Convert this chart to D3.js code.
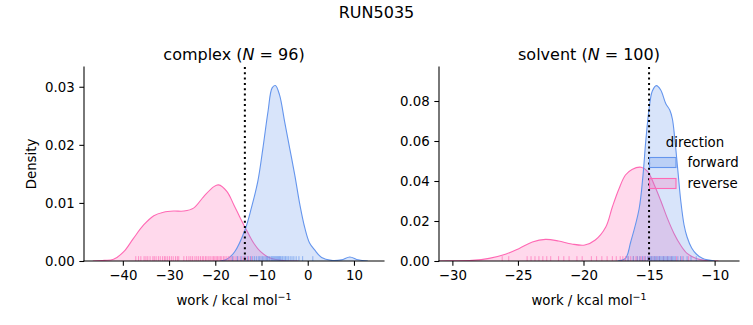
<!DOCTYPE html>
<html>
<head>
<meta charset="utf-8">
<script src="https://cdn.jsdelivr.net/npm/d3@7"></script>
<style>
  html, body { margin: 0; padding: 0; background: #fff; }
  svg { display: block; }
  text { font-family: "DejaVu Sans", sans-serif; fill: #000; }
</style>
</head>
<body>
<svg id="chart" width="753" height="325"></svg>
<script>
// ---------------- DATA ----------------
const suptitle = "RUN5035";
const hueLevels = ["forward", "reverse"];
const legendTitle = "direction";
const xLabel = "work / kcal mol";

// complex panel
const complexN = 96;
const complexXTicks = [-40, -30, -20, -10, 0, 10];
const complexYTicks = [0, 0.01, 0.02, 0.03];
const complexVline = -13.6;
const complexForwardX = [-19, -17.5, -15.8, -13.6, -12.2, -10.8, -9.7, -8.6, -7.7, -7.0, -6.1, -5.0, -3.9, -2.8, -1.7, -0.6, 0.4, 1.5, 3.0, 5.1, 7.3, 9.1, 10.9, 13];
const complexForwardY = [0, 0.0003, 0.0016, 0.0053, 0.0091, 0.0137, 0.0194, 0.0257, 0.0298, 0.0302, 0.0286, 0.0240, 0.0194, 0.0148, 0.0097, 0.0056, 0.0031, 0.0019, 0.0006, 0.0001, 0.0002, 0.0007, 0.0002, 0];
const complexReverseX = [-46.5, -44, -42, -39.8, -37.7, -35.5, -33.3, -31.2, -29, -26.8, -24.7, -22.5, -20.3, -19.3, -17.5, -16, -14.6, -13.1, -11.7, -10.2, -8.1, -5, -2];
const complexReverseY = [0, 0.0001, 0.0003, 0.0016, 0.0039, 0.0062, 0.0078, 0.0084, 0.0086, 0.0086, 0.0091, 0.0111, 0.0128, 0.0131, 0.0120, 0.0097, 0.0074, 0.0051, 0.0031, 0.0016, 0.0005, 0.00005, 0];
const complexForwardRug = [-16.3, -15.2, -14.4, -13.7, -13.0, -12.4, -11.9, -11.5, -11.1, -10.7, -10.4, -10.1, -9.8, -9.5, -9.2, -8.9, -8.7, -8.4, -8.2, -7.9, -7.7, -7.5, -7.3, -7.1, -6.9, -6.7, -6.5, -6.3, -6.1, -5.9, -5.6, -5.4, -5.1, -4.8, -4.5, -4.2, -3.8, -3.4, -3.0, -2.5, -1.9, -1.1, 1.1];
const complexReverseRug = [-37.2, -36.6, -36.1, -35.4, -35.0, -34.6, -34.1, -33.5, -33.2, -32.8, -32.3, -31.9, -31.4, -31.0, -30.7, -30.3, -29.9, -29.5, -29.1, -28.6, -28.2, -27.9, -26.8, -26.2, -25.7, -25.3, -24.9, -24.4, -24.0, -23.6, -23.2, -22.8, -22.5, -22.1, -21.8, -21.4, -21.1, -20.7, -20.4, -20.1, -19.8, -19.5, -19.2, -18.9, -18.6, -18.2, -17.9, -17.5, -17.1, -16.8, -16.4, -16.0, -15.5, -15.1, -14.6, -14.0, -13.4, -12.8, -12.2];

// solvent panel
const solventN = 100;
const solventXTicks = [-30, -25, -20, -15, -10];
const solventYTicks = [0, 0.02, 0.04, 0.06, 0.08];
const solventVline = -15.0;
const solventForwardX = [-17.4, -16.8, -16.4, -15.76, -15.46, -15.25, -15.0, -14.75, -14.44, -14.11, -13.73, -13.42, -13.22, -13.05, -12.8, -12.58, -12.33, -12.1, -11.75, -11.4, -10.9, -10.0];
const solventForwardY = [0, 0.0013, 0.0095, 0.026, 0.043, 0.060, 0.076, 0.085, 0.0877, 0.0855, 0.0788, 0.0755, 0.071, 0.062, 0.045, 0.030, 0.018, 0.012, 0.0065, 0.0035, 0.0012, 0];
const solventReverseX = [-31, -30, -28.5, -27.2, -25.9, -24.9, -23.9, -22.9, -21.9, -20.9, -19.9, -19.1, -18.3, -17.8, -17.3, -16.8, -16.3, -15.6, -15.1, -14.6, -14.1, -13.6, -13.1, -12.6, -12.1, -11.4, -10.7, -9.7];
const solventReverseY = [0, 0.0001, 0.0003, 0.0013, 0.0035, 0.0063, 0.0095, 0.0108, 0.0100, 0.0085, 0.0080, 0.0105, 0.017, 0.027, 0.036, 0.043, 0.0458, 0.0469, 0.0447, 0.038, 0.030, 0.0213, 0.0138, 0.008, 0.0038, 0.0013, 0.0003, 0];
const solventForwardRug = [-16.6, -16.2, -15.9, -15.7, -15.5, -15.3, -15.1, -15.0, -14.9, -14.8, -14.7, -14.6, -14.5, -14.4, -14.3, -14.2, -14.1, -14.0, -13.9, -13.8, -13.7, -13.6, -13.5, -13.4, -13.3, -13.2, -13.1, -13.0, -12.8, -12.6, -12.4, -12.1, -11.8, -11.4];
const solventReverseRug = [-26.2, -25.7, -24.3, -24.0, -23.7, -23.4, -23.1, -22.8, -22.5, -21.9, -21.5, -21.1, -20.5, -20.1, -19.4, -19.0, -18.6, -18.2, -17.8, -17.5, -17.2, -17.0, -16.8, -16.6, -16.4, -16.2, -16.0, -15.9, -15.7, -15.6, -15.4, -15.3, -15.1, -15.0, -14.8, -14.6, -14.4, -14.2, -13.9, -13.6, -13.3, -12.9, -12.5, -12.0];

// ---------------- STYLE / LAYOUT ----------------
const colors = { forward: "#6495ED", reverse: "#FF69B4" };
const fillAlpha = 0.25;
const fs = 13.33, fsTitle = 16;
const axTop = 67, axBottom = 261;

const panels = [
  { title: "complex", n: complexN, left: 84, right: 384, xDomain: [-48.4, 16.5], yDomain: [0, 0.0334],
    xTicks: complexXTicks, yTicks: complexYTicks, vline: complexVline,
    series: [
      { key: "reverse", x: complexReverseX, y: complexReverseY, rug: complexReverseRug },
      { key: "forward", x: complexForwardX, y: complexForwardY, rug: complexForwardRug }
    ], ylabel: true, legend: false },
  { title: "solvent", n: solventN, left: 439, right: 739, xDomain: [-31.02, -8.14], yDomain: [0, 0.097],
    xTicks: solventXTicks, yTicks: solventYTicks, vline: solventVline,
    series: [
      { key: "reverse", x: solventReverseX, y: solventReverseY, rug: solventReverseRug },
      { key: "forward", x: solventForwardX, y: solventForwardY, rug: solventForwardRug }
    ], ylabel: false, legend: true }
];

const svg = d3.select("#chart");
const minus = s => s.replace(/-/g, "\u2212");

svg.append("text").attr("x", 376.5).attr("y", 17.5).attr("text-anchor", "middle")
  .style("font-size", fsTitle + "px").text(suptitle);

panels.forEach((p, pi) => {
  const x = d3.scaleLinear().domain(p.xDomain).range([p.left, p.right]);
  const y = d3.scaleLinear().domain(p.yDomain).range([axBottom, axTop]);
  const g = svg.append("g");
  const clipId = "clip" + pi;
  svg.append("clipPath").attr("id", clipId).append("rect")
    .attr("x", p.left).attr("y", axTop).attr("width", p.right - p.left).attr("height", axBottom - axTop);
  const plot = g.append("g").attr("clip-path", `url(#${clipId})`);

  const curve = d3.curveCatmullRom.alpha(0.5);
  const area = d3.area().x(d => x(d[0])).y0(y(0)).y1(d => y(d[1])).curve(curve);
  const line = d3.line().x(d => x(d[0])).y(d => y(d[1])).curve(curve);

  p.series.forEach(s => {
    const pts = s.x.map((v, i) => [v, s.y[i]]);
    plot.append("path").attr("d", area(pts)).attr("fill", colors[s.key]).attr("fill-opacity", fillAlpha);
    plot.append("path").attr("d", line(pts)).attr("fill", "none").attr("stroke", colors[s.key]).attr("stroke-width", 1.1);
  });
  const rugH = 0.025 * (axBottom - axTop);
  p.series.forEach(s => {
    plot.selectAll(null).data(s.rug).enter().append("line")
      .attr("x1", d => x(d)).attr("x2", d => x(d))
      .attr("y1", axBottom).attr("y2", axBottom - rugH)
      .attr("stroke", colors[s.key]).attr("stroke-opacity", 0.65).attr("stroke-width", 1);
  });
  // vertical dotted line
  plot.append("line").attr("x1", x(p.vline)).attr("x2", x(p.vline))
    .attr("y1", axTop).attr("y2", axBottom)
    .attr("stroke", "#000").attr("stroke-width", 2).attr("stroke-dasharray", "2,3.3");

  // axes
  const xAxis = d3.axisBottom(x).tickValues(p.xTicks).tickSize(4.67).tickPadding(4.67)
    .tickFormat(d => minus(d3.format("d")(d)));
  const yAxis = d3.axisLeft(y).tickValues(p.yTicks).tickSize(4.67).tickPadding(4.67)
    .tickFormat(d => d3.format(".2f")(d));
  const gx = g.append("g").attr("transform", `translate(0,${axBottom})`).call(xAxis);
  const gy = g.append("g").attr("transform", `translate(${p.left},0)`).call(yAxis);
  [gx, gy].forEach(a => {
    a.select(".domain").remove();
    a.selectAll(".tick line").attr("stroke", "#000").attr("stroke-width", 1.07);
    a.selectAll(".tick text").style("font-size", fs + "px").style("font-family", "DejaVu Sans");
  });
  gx.selectAll(".tick text").attr("dy", "0.71em");
  gy.selectAll(".tick text").attr("dy", "0.36em");
  // spines
  g.append("line").attr("x1", p.left).attr("x2", p.left).attr("y1", axTop).attr("y2", axBottom)
    .attr("stroke", "#000").attr("stroke-width", 1.07).attr("stroke-linecap", "square");
  g.append("line").attr("x1", p.left).attr("x2", p.right).attr("y1", axBottom).attr("y2", axBottom)
    .attr("stroke", "#000").attr("stroke-width", 1.07).attr("stroke-linecap", "square");

  const cx = (p.left + p.right) / 2;
  // title
  const t = g.append("text").attr("x", cx).attr("y", 59.5).attr("text-anchor", "middle").style("font-size", fsTitle + "px");
  t.append("tspan").text(p.title + " (");
  t.append("tspan").style("font-style", "italic").text("N");
  t.append("tspan").text(" = " + p.n + ")");
  // x label
  const xl = g.append("text").attr("x", cx).attr("y", 305).attr("text-anchor", "middle").style("font-size", fs + "px");
  xl.append("tspan").text(xLabel);
  xl.append("tspan").attr("dy", -5).style("font-size", "9.5px").text("\u22121");
  // y label
  if (p.ylabel) {
    g.append("text").attr("transform", `translate(35.5,${(axTop + axBottom) / 2}) rotate(-90)`)
      .attr("text-anchor", "middle").style("font-size", fs + "px").text("Density");
  }
  // legend
  if (p.legend) {
    const lg = svg.append("g");
    lg.append("text").attr("x", 695).attr("y", 146.5).attr("text-anchor", "middle").style("font-size", fs + "px").text(legendTitle);
    hueLevels.forEach((k, i) => {
      const yy = 157.5 + i * 21;
      lg.append("rect").attr("x", 649.5).attr("y", yy).attr("width", 26.5).attr("height", 10)
        .attr("fill", colors[k]).attr("fill-opacity", fillAlpha)
        .attr("stroke", colors[k]).attr("stroke-width", 1.1);
      lg.append("text").attr("x", 687.5).attr("y", yy + 9.5).style("font-size", fs + "px").text(k);
    });
  }
});
</script>
</body>
</html>
